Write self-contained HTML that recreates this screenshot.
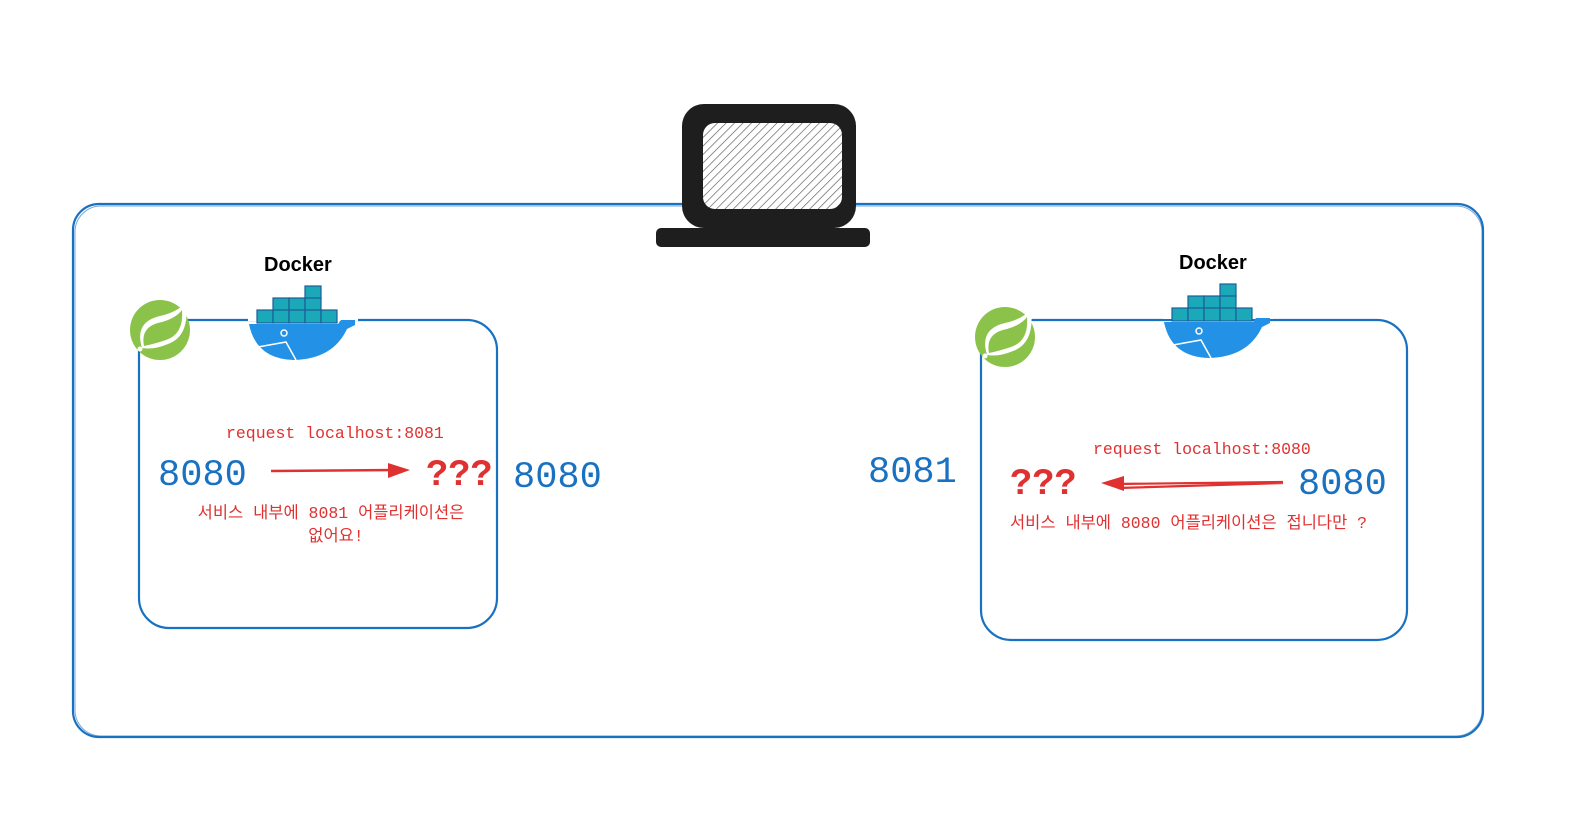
<!DOCTYPE html>
<html><head><meta charset="utf-8"><style>
html,body{margin:0;padding:0;background:#fff;}
svg text{font-family:"Liberation Mono","Noto Sans CJK KR",monospace;}
</style></head><body>
<svg width="1581" height="811" viewBox="0 0 1581 811" xmlns="http://www.w3.org/2000/svg">
<defs>
<pattern id="h" width="6" height="6" patternUnits="userSpaceOnUse" patternTransform="rotate(45)">
<rect width="6" height="6" fill="#fff"/><line x1="0" y1="0" x2="0" y2="6" stroke="#555" stroke-width="1.3"/>
</pattern>
</defs>
<rect width="1581" height="811" fill="#fff"/>
<rect x="73" y="204" width="1410" height="533" rx="26" fill="none" stroke="#1971c2" stroke-width="2.2"/>
<rect x="75" y="206" width="1407" height="530" rx="26" fill="none" stroke="#1971c2" stroke-width="1" opacity="0.6"/>
<rect x="682" y="104" width="174" height="124" rx="22" fill="#1e1e1e"/>
<rect x="703" y="123" width="139" height="86" rx="12" fill="url(#h)"/>
<rect x="656" y="228" width="214" height="19" rx="5" fill="#1e1e1e"/>
<rect x="139" y="320" width="358" height="308" rx="30" fill="none" stroke="#1971c2" stroke-width="2.2"/>
<rect x="981" y="320" width="426" height="320" rx="30" fill="none" stroke="#1971c2" stroke-width="2.2"/>

<g transform="translate(248,285)">
<text x="16" y="-14" font-size="20" font-weight="bold" fill="#000" style="font-family:'Liberation Sans',sans-serif">Docker</text>
<rect x="0" y="0" width="110" height="36" fill="#fff"/>
<g fill="#1ba8b8" stroke="#1a5f96" stroke-width="1.2">
<rect x="57" y="1" width="16" height="13"/>
<rect x="25" y="13" width="16" height="13"/><rect x="41" y="13" width="16" height="13"/><rect x="57" y="13" width="16" height="13"/>
<rect x="9" y="25" width="16" height="13"/><rect x="25" y="25" width="16" height="13"/><rect x="41" y="25" width="16" height="13"/><rect x="57" y="25" width="16" height="13"/><rect x="73" y="25" width="16" height="13"/>
</g>
<path d="M1 39 L90 39 L93 35 L107 35 L107 40 L99 44 Q85 74 46 75 Q8 74 1 39Z" fill="#2391e6"/>
<circle cx="36" cy="48" r="3" fill="none" stroke="#fff" stroke-width="1.5"/>
<path d="M10 62 L38 57 L48 75" fill="none" stroke="#fff" stroke-width="1.5"/>
</g>
<g transform="translate(1163,283)">
<text x="16" y="-14" font-size="20" font-weight="bold" fill="#000" style="font-family:'Liberation Sans',sans-serif">Docker</text>
<rect x="0" y="0" width="110" height="36" fill="#fff"/>
<g fill="#1ba8b8" stroke="#1a5f96" stroke-width="1.2">
<rect x="57" y="1" width="16" height="13"/>
<rect x="25" y="13" width="16" height="13"/><rect x="41" y="13" width="16" height="13"/><rect x="57" y="13" width="16" height="13"/>
<rect x="9" y="25" width="16" height="13"/><rect x="25" y="25" width="16" height="13"/><rect x="41" y="25" width="16" height="13"/><rect x="57" y="25" width="16" height="13"/><rect x="73" y="25" width="16" height="13"/>
</g>
<path d="M1 39 L90 39 L93 35 L107 35 L107 40 L99 44 Q85 74 46 75 Q8 74 1 39Z" fill="#2391e6"/>
<circle cx="36" cy="48" r="3" fill="none" stroke="#fff" stroke-width="1.5"/>
<path d="M10 62 L38 57 L48 75" fill="none" stroke="#fff" stroke-width="1.5"/>
</g>
<g transform="translate(160,330)">
<circle r="30" fill="#8bc34a"/>
<path d="M-18 18 Q-26 -8 0 -14 Q18 -18 26 -28 Q30 6 8 14 Q-6 20 -18 18Z" fill="#fff"/>
<path d="M-16 16 Q-20 -4 2 -8 Q16 -12 22 -20 Q24 4 6 10 Q-6 14 -16 16Z" fill="#8bc34a"/>
<circle cx="-20" cy="19" r="2.5" fill="#fff"/>
</g>
<g transform="translate(1005,337)">
<circle r="30" fill="#8bc34a"/>
<path d="M-18 18 Q-26 -8 0 -14 Q18 -18 26 -28 Q30 6 8 14 Q-6 20 -18 18Z" fill="#fff"/>
<path d="M-16 16 Q-20 -4 2 -8 Q16 -12 22 -20 Q24 4 6 10 Q-6 14 -16 16Z" fill="#8bc34a"/>
<circle cx="-20" cy="19" r="2.5" fill="#fff"/>
</g>

<text x="226" y="438" font-size="16.5" fill="#e03131">request localhost:8081</text>
<text x="158" y="485" font-size="37" fill="#1971c2">8080</text>
<path d="M271 471 L395 470" stroke="#e03131" stroke-width="2.5" fill="none"/>
<path d="M388 463 L410 470 L388 478Z" fill="#e03131"/>
<text x="426" y="485" font-size="37" font-weight="bold" fill="#e03131">???</text>
<text x="513" y="487" font-size="37" fill="#1971c2">8080</text>
<text x="331" y="518" font-size="16.5" fill="#e03131" text-anchor="middle">서비스 내부에 8081 어플리케이션은</text>
<text x="336" y="541" font-size="16.5" fill="#e03131" text-anchor="middle">없어요!</text>

<text x="1093" y="454" font-size="16.5" fill="#e03131">request localhost:8080</text>
<text x="868" y="482" font-size="37" fill="#1971c2">8081</text>
<text x="1010" y="494" font-size="37" font-weight="bold" fill="#e03131">???</text>
<path d="M1283 482 L1115 484 M1283 483 L1118 488" stroke="#e03131" stroke-width="2.2" fill="none"/>
<path d="M1124 476 L1101 483 L1124 491Z" fill="#e03131"/>
<text x="1298" y="494" font-size="37" fill="#1971c2">8080</text>
<text x="1010" y="528" font-size="16.5" fill="#e03131">서비스 내부에 8080 어플리케이션은 접니다만 ?</text>
</svg>
</body></html>
